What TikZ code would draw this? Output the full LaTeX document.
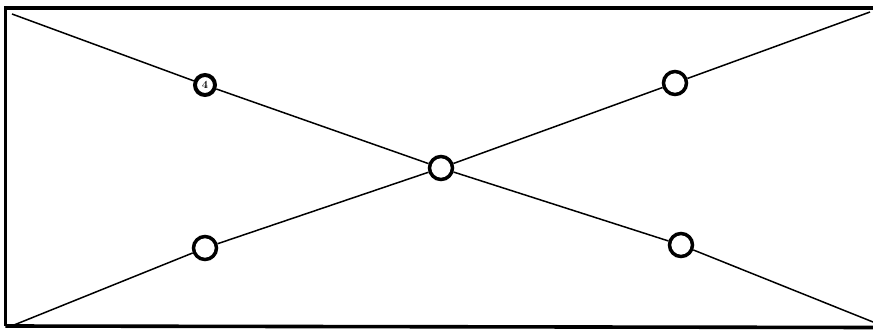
\documentclass[tikz,border=0pt]{standalone}
\begin{document}
\begin{tikzpicture}[x=1pt,y=-1pt,
  ring/.style={circle,draw=black,line width=3.5pt,fill=white,minimum size=23pt,inner sep=0pt},
  ringsmall/.style={circle,draw=black,line width=4pt,fill=white,minimum size=20pt,inner sep=0pt,font=\fontsize{11}{11}\selectfont\bfseries},
  diag/.style={line width=1.5pt,black},
  frame/.style={line width=3.6pt,black}]
\useasboundingbox (0,0) rectangle (873,331);
\coordinate (tl) at (12,14);
\coordinate (br) at (873,322);
\coordinate (bl) at (14,325);
\coordinate (tr) at (870,12);
\coordinate (f1) at (873,8);
\coordinate (f2) at (5.5,8);
\coordinate (f3) at (5.5,326);
\coordinate (f4) at (873,327.5);
\draw[frame] (f1) -- (f2) -- (f3);
\draw[frame] (f3) -- (f4);
\node[ringsmall] (c1) at (205,85) {4};
\node[ring] (c2) at (675,83) {};
\node[ring] (c3) at (441,168) {};
\node[ring] (c4) at (205,248) {};
\node[ring] (c5) at (681,245) {};
\draw[diag] (tl) -- (c1) -- (c3) -- (c5) -- (br);
\draw[diag] (bl) -- (c4) -- (c3) -- (c2) -- (tr);
\end{tikzpicture}
\end{document}
